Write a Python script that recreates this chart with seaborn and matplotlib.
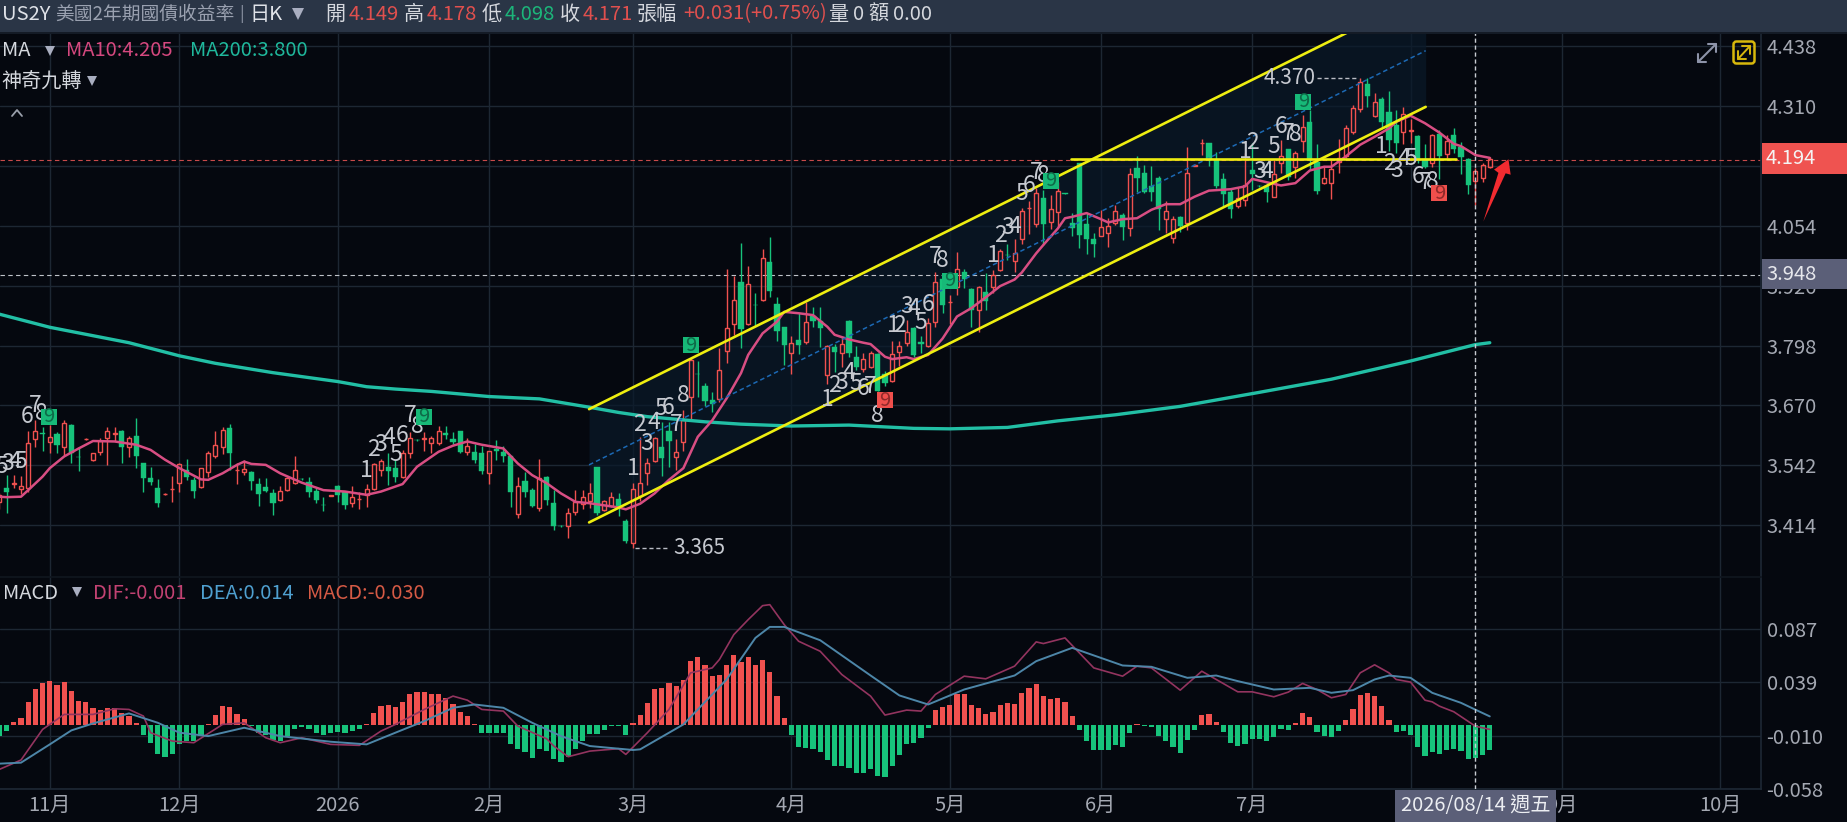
import matplotlib
matplotlib.use("Agg")
import matplotlib.pyplot as plt
import matplotlib.patches as mpatches
import pandas as pd
import seaborn as sns

# daily candles, index 0 is the first bar on the left
opens = [3.464,3.493,3.503,3.491,3.493,3.598,3.612,3.591,3.609,3.581,
         3.628,3.560,3.598,3.554,3.571,3.600,3.609,3.616,3.581,3.605,
         3.546,3.516,3.493,3.480,3.491,3.504,3.532,3.511,3.495,3.528,
         3.563,3.581,3.621,3.531,3.527,3.527,3.502,3.495,3.482,3.468,
         3.489,3.504,3.513,3.507,3.487,3.458,3.477,3.498,3.485,3.461,
         3.469,3.479,3.492,3.532,3.539,3.537,3.518,3.568,3.597,3.599,
         3.589,3.589,3.612,3.599,3.616,3.571,3.570,3.568,3.525,3.577,
         3.571,3.561,3.437,3.509,3.489,3.450,3.518,3.461,3.413,3.413,
         3.442,3.460,3.466,3.538,3.447,3.455,3.470,3.423,3.376,3.477,
         3.525,3.551,3.581,3.616,3.559,3.591,3.687,3.738,3.712,3.682,
         3.683,3.787,3.845,3.933,3.845,3.885,3.895,3.977,3.887,3.837,
         3.783,3.810,3.806,3.861,3.851,3.734,3.794,3.783,3.851,3.774,
         3.747,3.753,3.780,3.737,3.723,3.784,3.804,3.835,3.806,3.796,
         3.849,3.940,3.890,3.924,3.956,3.918,3.874,3.913,3.924,3.959,
         3.992,3.979,4.025,4.091,4.057,4.113,4.061,4.084,4.123,4.059,
         4.187,4.058,4.025,4.033,4.038,4.059,4.076,4.049,4.177,4.166,
         4.138,4.157,4.068,4.027,4.072,4.059,4.182,4.230,4.230,4.195,
         4.153,4.127,4.097,4.108,4.173,4.139,4.139,4.116,4.189,4.217,
         4.180,4.234,4.276,4.191,4.145,4.146,4.190,4.203,4.255,4.303,
         4.357,4.288,4.324,4.298,4.269,4.255,4.257,4.246,4.196,4.187,
         4.251,4.207,4.248,4.222,4.196,4.149,4.157,4.179]
closes = [3.479,3.485,3.505,3.497,3.589,3.616,3.609,3.603,3.586,3.633,
          3.568,3.559,3.599,3.569,3.593,3.616,3.611,3.582,3.600,3.561,
          3.516,3.507,3.461,3.481,3.492,3.544,3.518,3.488,3.536,3.568,
          3.586,3.617,3.568,3.532,3.535,3.509,3.481,3.487,3.461,3.488,
          3.514,3.531,3.512,3.486,3.468,3.457,3.478,3.479,3.457,3.475,
          3.470,3.491,3.544,3.551,3.530,3.517,3.568,3.601,3.596,3.600,
          3.601,3.616,3.606,3.591,3.571,3.584,3.554,3.529,3.572,3.573,
          3.561,3.486,3.498,3.486,3.455,3.516,3.468,3.413,3.412,3.440,
          3.464,3.474,3.482,3.440,3.465,3.474,3.452,3.381,3.491,3.504,
          3.546,3.601,3.558,3.593,3.571,3.638,3.767,3.737,3.680,3.673,
          3.746,3.836,3.895,3.833,3.929,3.884,3.986,3.915,3.829,3.800,
          3.804,3.800,3.849,3.850,3.835,3.796,3.785,3.801,3.781,3.753,
          3.769,3.781,3.701,3.719,3.780,3.796,3.826,3.778,3.801,3.847,
          3.934,3.885,3.891,3.962,3.940,3.873,3.922,3.894,3.949,3.999,
          3.991,3.995,4.086,4.092,4.123,4.058,4.089,4.128,4.122,4.049,
          4.034,4.025,4.015,4.052,4.054,4.086,4.051,4.164,4.157,4.126,
          4.127,4.089,4.086,4.068,4.054,4.166,4.183,4.231,4.195,4.138,
          4.122,4.090,4.113,4.141,4.165,4.138,4.125,4.164,4.203,4.159,
          4.210,4.264,4.194,4.128,4.157,4.175,4.198,4.262,4.305,4.362,
          4.331,4.319,4.276,4.237,4.230,4.293,4.258,4.194,4.179,4.248,
          4.203,4.234,4.219,4.200,4.140,4.171,4.184,4.197]
highs = [3.482,3.521,3.521,3.519,3.616,3.638,3.623,3.628,3.614,3.638,
         3.630,3.582,3.600,3.569,3.600,3.623,3.623,3.618,3.605,3.643,
         3.546,3.539,3.513,3.482,3.519,3.546,3.555,3.518,3.536,3.573,
         3.615,3.623,3.630,3.546,3.554,3.529,3.516,3.516,3.491,3.497,
         3.518,3.562,3.514,3.518,3.493,3.474,3.479,3.500,3.488,3.497,
         3.486,3.502,3.546,3.555,3.569,3.554,3.575,3.614,3.598,3.614,
         3.605,3.626,3.625,3.614,3.616,3.601,3.588,3.584,3.573,3.596,
         3.584,3.561,3.518,3.527,3.493,3.556,3.520,3.489,3.414,3.450,
         3.489,3.489,3.505,3.538,3.468,3.486,3.482,3.427,3.504,3.603,
         3.557,3.603,3.634,3.635,3.598,3.660,3.771,3.764,3.717,3.698,
         3.792,3.962,3.947,4.018,3.968,3.910,4.004,4.029,3.902,3.838,
         3.818,3.867,3.890,3.880,3.880,3.799,3.801,3.816,3.853,3.796,
         3.783,3.787,3.781,3.744,3.808,3.808,3.853,3.837,3.818,3.856,
         3.956,3.940,3.906,3.997,3.961,3.920,3.926,3.952,3.959,4.004,
         4.016,4.025,4.091,4.107,4.134,4.130,4.120,4.148,4.124,4.081,
         4.189,4.081,4.038,4.088,4.070,4.098,4.082,4.177,4.203,4.184,
         4.182,4.160,4.106,4.074,4.074,4.223,4.184,4.239,4.230,4.212,
         4.166,4.134,4.134,4.209,4.230,4.140,4.145,4.194,4.237,4.219,
         4.214,4.291,4.301,4.229,4.182,4.194,4.239,4.269,4.312,4.370,
         4.369,4.337,4.330,4.341,4.301,4.308,4.283,4.248,4.229,4.251,
         4.259,4.248,4.262,4.232,4.198,4.178,4.187,4.200]
lows = [3.448,3.441,3.493,3.481,3.486,3.582,3.573,3.568,3.569,3.561,
        3.548,3.529,3.597,3.552,3.564,3.543,3.593,3.546,3.559,3.536,
        3.486,3.500,3.454,3.479,3.463,3.484,3.511,3.472,3.493,3.518,
        3.557,3.566,3.531,3.502,3.521,3.489,3.456,3.484,3.435,3.465,
        3.488,3.502,3.511,3.475,3.462,3.445,3.476,3.464,3.448,3.452,
        3.448,3.454,3.489,3.520,3.500,3.507,3.514,3.557,3.595,3.573,
        3.568,3.586,3.598,3.588,3.568,3.564,3.546,3.524,3.502,3.554,
        3.550,3.454,3.429,3.475,3.452,3.445,3.457,3.404,3.411,3.386,
        3.435,3.448,3.450,3.436,3.445,3.454,3.433,3.377,3.365,3.465,
        3.500,3.550,3.519,3.538,3.531,3.573,3.639,3.689,3.669,3.657,
        3.678,3.760,3.821,3.793,3.842,3.842,3.893,3.901,3.808,3.756,
        3.737,3.780,3.801,3.837,3.794,3.715,3.742,3.752,3.773,3.746,
        3.742,3.749,3.700,3.712,3.721,3.755,3.796,3.774,3.783,3.794,
        3.837,3.867,3.845,3.906,3.920,3.838,3.826,3.873,3.910,3.958,
        3.981,3.956,4.016,4.036,4.052,4.013,4.046,4.053,4.121,4.032,
        4.006,3.994,3.987,4.031,4.009,4.056,4.024,4.031,4.125,4.123,
        4.106,4.044,4.038,4.018,4.041,4.044,4.181,4.205,4.182,4.134,
        4.096,4.070,4.091,4.096,4.130,4.137,4.105,4.115,4.166,4.152,
        4.155,4.212,4.173,4.122,4.143,4.111,4.166,4.198,4.251,4.298,
        4.307,4.287,4.266,4.214,4.209,4.229,4.230,4.189,4.177,4.180,
        4.153,4.198,4.209,4.165,4.122,4.098,4.148,4.177]

ma10_x = [0,1,3,4,6,7,9,11,13,16,19,21,23,25,28,29,31,33,34,35,37,39,42,45,48,51,53,56,58,61,63,65,67,70,72,74,76,78,80,82,
          86,87,89,91,93,95,97,99,101,103,104,106,108,109,111,113,115,116,118,120,121,123,124,126,127,129,131,133,135,137,139,141,142,144,145,147,
          148,149,151,153,154,156,158,160,162,164,166,168,171,173,174,176,178,180,182,184,185,187,189,191,193,194,196,198,200,202,203,205,207]
ma10_y = [3.475,3.474,3.475,3.489,3.518,3.536,3.561,3.578,3.594,3.593,3.586,3.575,3.554,3.536,3.512,3.511,3.525,3.543,3.550,3.545,
          3.543,3.525,3.505,3.489,3.486,3.479,3.486,3.502,3.539,3.571,3.584,3.593,3.586,3.578,3.546,3.521,3.504,3.482,3.464,3.461,
          3.452,3.448,3.460,3.482,3.511,3.536,3.603,3.638,3.685,3.739,3.778,3.824,3.849,3.870,3.867,3.863,3.838,3.821,3.811,3.804,
          3.801,3.774,3.769,3.773,3.769,3.778,3.813,3.860,3.878,3.901,3.925,3.939,3.954,3.995,4.013,4.048,
          4.070,4.073,4.081,4.068,4.061,4.068,4.070,4.088,4.100,4.100,4.116,4.129,4.132,4.138,4.154,4.147,4.140,4.145,4.172,4.180,
          4.180,4.202,4.227,4.244,4.262,4.276,4.289,4.273,4.253,4.229,4.224,4.205,4.199]
ma200_x = [0,7,18,25,30,38,47,51,55,60,68,75,82,86,90,98,103,110,118,127,132,140,147,155,164,175,185,196,205,207]
ma200_y = [3.865,3.837,3.804,3.776,3.760,3.740,3.721,3.710,3.705,3.700,3.689,3.684,3.666,3.655,3.646,3.635,3.630,3.626,3.628,3.621,
           3.620,3.623,3.637,3.650,3.668,3.698,3.726,3.765,3.800,3.804]

# MACD panel
macd_hist = [-.0100,-.0051,.0027,.0066,.0211,.0332,.0384,.0399,.0365,.0390,
             .0308,.0223,.0208,.0154,.0136,.0157,.0157,.0106,.0082,.0021,
             -.0091,-.0160,-.0260,-.0287,-.0266,-.0175,-.0145,-.0145,-.0100,.0012,
             .0088,.0172,.0160,.0097,.0057,-.0012,-.0069,-.0094,-.0136,-.0148,
             -.0100,-.0039,-.0021,-.0039,-.0069,-.0094,-.0076,-.0063,-.0069,-.0051,
             -.0033,.0012,.0109,.0172,.0184,.0166,.0208,.0278,.0296,.0296,
             .0281,.0281,.0248,.0193,.0121,.0082,.0012,-.0076,-.0069,-.0069,
             -.0076,-.0175,-.0220,-.0245,-.0302,-.0220,-.0239,-.0311,-.0335,-.0290,
             -.0220,-.0148,-.0079,-.0082,-.0048,-.0009,-.0006,-.0091,.0015,.0094,
             .0196,.0329,.0341,.0378,.0356,.0408,.0580,.0619,.0541,.0450,
             .0453,.0541,.0637,.0574,.0619,.0544,.0589,.0480,.0263,.0060,
             -.0094,-.0196,-.0211,-.0214,-.0245,-.0314,-.0371,-.0371,-.0393,-.0435,
             -.0432,-.0396,-.0465,-.0468,-.0371,-.0275,-.0169,-.0160,-.0118,-.0030,
             .0139,.0166,.0184,.0278,.0278,.0178,.0157,.0100,.0121,.0181,
             .0196,.0193,.0290,.0335,.0374,.0263,.0233,.0242,.0214,.0082,
             -.0048,-.0145,-.0223,-.0223,-.0227,-.0181,-.0202,-.0069,.0012,-.0009,
             -.0015,-.0103,-.0145,-.0199,-.0254,-.0136,-.0045,.0088,.0103,.0027,
             -.0060,-.0160,-.0187,-.0175,-.0124,-.0130,-.0145,-.0109,-.0039,-.0048,
             .0015,.0112,.0069,-.0060,-.0100,-.0106,-.0054,.0045,.0142,.0269,
             .0290,.0263,.0172,.0048,-.0060,-.0051,-.0091,-.0196,-.0284,-.0245,
             -.0263,-.0223,-.0220,-.0236,-.0311,-.0300,-.0275,-.0227]
dif_x = [0,3,6,9,13,16,18,20,21,24,27,31,34,37,39,42,46,50,53,55,59,63,65,67,70,72,76,77,79,82,86,87,90,
         93,96,99,100,102,104,106,107,109,111,114,117,121,123,126,128,130,134,137,141,144,145,148,152,156,158,160,164,167,172,174,
         177,179,181,183,185,187,189,191,193,194,196,198,199,200,202,205,207]
dif_y = [-.0402,-.0317,-.0039,.0097,.0097,.0148,.0142,.0082,-.0069,-.0145,-.0160,.0006,.0021,-.0115,-.0160,-.0115,-.0175,-.0184,-.0054,.0006,
         .0142,.0263,.0226,.0142,.0127,-.0009,-.0124,-.0190,-.0287,-.0236,-.0214,-.0266,-.0069,
         .0142,.0474,.0519,.0595,.0821,.0957,.1084,.1093,.0912,.0761,.0670,.0459,.0263,.0091,.0136,.0127,.0278,.0444,.0420,.0535,.0755,.0740,
         .0791,.0519,.0444,.0535,.0519,.0317,.0489,.0302,.0302,
         .0257,.0299,.0378,.0323,.0248,.0278,.0474,.0547,.0474,.0414,.0390,.0226,.0211,.0172,.0121,-.0010,-.0039]
dea_x = [0,3,7,10,13,18,22,25,29,34,39,46,51,55,59,63,66,70,74,78,82,88,89,95,101,105,107,109,114,121,125,129,134,141,144,149,156,160,165,169,172,
         177,182,185,188,191,193,196,199,203,205,207]
dea_y = [-.0350,-.0341,-.0175,-.0048,.0015,.0106,.0021,-.0069,-.0100,-.0024,-.0100,-.0151,-.0175,-.0069,.0036,.0157,.0187,.0157,.0021,-.0100,
         -.0190,-.0226,-.0220,.0006,.0414,.0791,.0891,.0891,.0770,.0450,.0269,.0187,.0323,.0450,.0580,.0701,.0541,.0529,.0429,.0450,.0399,
         .0323,.0338,.0293,.0317,.0414,.0450,.0429,.0293,.0202,.0140,.0079]

# trend channel and the flat line
channel_x = [81.9, 198.1]
channel_upper = [3.662, 4.550]
channel_mid = [3.543, 4.428]
channel_lower = [3.420, 4.308]
flat_x = [148.8, 202.3]
flat_y = [4.196, 4.196]

# nine-turn counters
td_x = [0.3,1.1,2.2,2.9,3.9,5,5.8, 51,52,53,54.1,55,56,57,58, 88,88.9,89.9,90.9,91.9,92.9,94,95,
        115,116,117,118,119,120,121,122, 124.2,125,126,127,128,129,130,131,
        138,139,140,141,142,143,144,145, 173,174,175,176,177,178,179,180,
        192,193,194,195,196,197,198,199]
td_y = [3.540,3.546,3.550,3.550,3.646,3.669,3.652, 3.532,3.576,3.587,3.601,3.566,3.605,3.648,3.626,
        3.536,3.630,3.588,3.634,3.664,3.666,3.630,3.691,
        3.682,3.712,3.719,3.741,3.717,3.707,3.710,3.648,
        3.840,3.840,3.881,3.877,3.847,3.885,3.988,3.979,
        3.991,4.034,4.051,4.053,4.123,4.139,4.167,4.162,
        4.212,4.232,4.170,4.170,4.223,4.267,4.250,4.248,
        4.224,4.186,4.173,4.198,4.198,4.159,4.146,4.148]
td_text = ["5","3","4","5","6","7","8", "1","2","3","4","5","6","7","8", "1","2","3","4","5","6","7","8",
           "1","2","3","4","5","6","7","8", "1","2","3","4","5","6","7","8",
           "1","2","3","4","5","6","7","8", "1","2","3","4","5","6","7","8",
           "1","2","3","4","5","6","7","8"]
nine_green_x = [6.9, 59, 96, 132, 146, 181.1]
nine_green_y = [3.646, 3.646, 3.799, 3.936, 4.150, 4.319]
nine_red_x = [123, 200]
nine_red_y = [3.681, 4.123]

month_ticks = [7, 25, 47, 68, 88, 110, 132, 153, 174, 196, 217, 239]
month_labels = ["11月", "12月", "2026", "2月", "3月", "4月", "5月", "6月", "7月", "8月", "9月", "10月"]
price_ticks = [4.438, 4.310, 4.182, 4.054, 3.926, 3.798, 3.670, 3.542, 3.414]
macd_ticks = [0.087, 0.039, -0.010, -0.058]

BG = "#05080f"
GRID = "#1d2733"
RED = "#f0514f"
GREEN = "#17c37b"
TEXT = "#a4a8b2"
YELLOW = "#eeee10"
CROSS = 205

sns.set_theme(style="dark")
plt.rcParams["font.family"] = ["Noto Sans CJK TC", "DejaVu Sans"]

W, H = 1847, 822
fig = plt.figure(figsize=(W / 100, H / 100), dpi=100, facecolor=BG)
ax = fig.add_axes([0, 1 - 577 / H, 1761 / W, (577 - 33) / H], facecolor=BG)
ax2 = fig.add_axes([0, 1 - 789 / H, 1761 / W, (789 - 577) / H], facecolor=BG)

candles = pd.DataFrame({"open": opens, "close": closes, "high": highs, "low": lows})
candles["top"] = candles[["open", "close"]].max(axis=1)
candles["bottom"] = candles[["open", "close"]].min(axis=1)
up = candles[candles.close >= candles.open]
down = candles[candles.close < candles.open]

# channel sits under the candles
ax.fill_between(channel_x, channel_lower, channel_upper, color="#0a1a2a", alpha=0.7, lw=0, zorder=1)

ax.vlines(up.index, up.top, up.high, color=RED, lw=1, zorder=3)
ax.vlines(up.index, up.low, up.bottom, color=RED, lw=1, zorder=3)
ax.bar(up.index, up.top - up.bottom, bottom=up.bottom, width=0.55, facecolor="none", edgecolor=RED, lw=1, zorder=3)
ax.vlines(down.index, down.low, down.high, color=GREEN, lw=1, zorder=3)
ax.bar(down.index, down.top - down.bottom, bottom=down.bottom, width=0.7, color=GREEN, lw=0.3, edgecolor=GREEN, zorder=3)

sns.lineplot(x=ma200_x, y=ma200_y, color="#22bfa5", lw=2.4, ax=ax, zorder=4)
sns.lineplot(x=ma10_x, y=ma10_y, color="#d84e83", lw=1.8, ax=ax, zorder=4)

ax.plot(channel_x, channel_mid, color="#1c69b4", lw=1.1, ls=(0, (3, 2)), zorder=5)
ax.plot(channel_x, channel_upper, color=YELLOW, lw=1.9, zorder=5)
ax.plot(channel_x, channel_lower, color=YELLOW, lw=1.9, zorder=5)
ax.plot(flat_x, flat_y, color=YELLOW, lw=1.9, zorder=5)

ax.axhline(4.194, color="#c94a4a", lw=0.8, ls=(0, (4, 3)), zorder=2)
ax.axhline(3.948, color="#bfc3c9", lw=0.8, ls=(0, (4, 3)), zorder=2)

for x, y, t in zip(td_x, td_y, td_text):
    ax.text(x, y, t, color="#c6c9d0", fontsize=16.5, ha="center", va="center", zorder=6, fontweight="light")

# the ninth count sits on a small square
ax.plot(nine_green_x, nine_green_y, ls="", marker="s", ms=11.5, color="#17b978", mew=0, zorder=6)
ax.plot(nine_red_x, nine_red_y, ls="", marker="s", ms=11.5, color="#ef4f4c", mew=0, zorder=6)
for x, y in zip(nine_green_x, nine_green_y):
    ax.text(x, y, "9", color="#0e6a48", fontsize=14.5, ha="center", va="center", zorder=7)
for x, y in zip(nine_red_x, nine_red_y):
    ax.text(x, y, "9", color="#8f2a2a", fontsize=14.5, ha="center", va="center", zorder=7)

# high and low call-outs
ax.plot([88.3, 93], [3.365, 3.365], color="#b9bcc4", lw=1, ls=(0, (3, 2)), zorder=6)
ax.text(93.6, 3.365, "3.365", color="#c6c9d0", fontsize=15, va="center", zorder=6)
ax.plot([183, 188.7], [4.370, 4.370], color="#b9bcc4", lw=1, ls=(0, (3, 2)), zorder=6)
ax.text(182.8, 4.370, "4.370", color="#c6c9d0", fontsize=15, va="center", ha="right", zorder=6)

# hand-drawn red arrow
ax.add_patch(mpatches.Polygon([(206.1, 4.063), (208.2, 4.167), (207.6, 4.174), (209.6, 4.196),
                               (209.9, 4.163), (209.2, 4.166)], closed=True, fc="#f22b30", ec="none", zorder=7))

# MACD histogram
macd = pd.DataFrame({"bar": range(len(macd_hist)), "hist": macd_hist})
macd["side"] = ["up" if v >= 0 else "down" for v in macd_hist]
sns.barplot(data=macd, x="bar", y="hist", hue="side", palette={"up": RED, "down": GREEN}, native_scale=True,
            dodge=False, width=0.7, saturation=1, legend=False, linewidth=0, edgecolor="none", ax=ax2, zorder=3)
sns.lineplot(x=dif_x, y=dif_y, color="#93345f", lw=1.2, ax=ax2, zorder=4)
sns.lineplot(x=dea_x, y=dea_y, color="#4d86a8", lw=1.4, ax=ax2, zorder=4)

for a in (ax, ax2):
    a.set_xlim(0.083, 244.67)
    a.set_xlabel("")
    a.set_ylabel("")
    a.set_xticks(month_ticks)
    a.grid(True, color=GRID, lw=1)
    a.set_axisbelow(True)
    a.yaxis.tick_right()
    a.axvline(CROSS, color="#c8ccd2", lw=1, ls=(0, (3, 2)), zorder=8)
    for side in a.spines:
        a.spines[side].set_visible(False)
    a.spines["right"].set_visible(True)
    a.spines["right"].set_color(GRID)
    a.tick_params(length=0, colors=TEXT, labelsize=14.5, pad=4)

ax.set_ylim(3.3034, 4.4658)
ax.set_yticks(price_ticks)
ax.set_yticklabels([f"{v:.3f}" for v in price_ticks])
ax.tick_params(labelbottom=False)
ax2.set_ylim(-0.058, 0.1344)
ax2.set_yticks(macd_ticks)
ax2.set_yticklabels([f"{v:.3f}" for v in macd_ticks])
ax2.set_xticklabels(month_labels)
ax2.spines["bottom"].set_visible(True)
ax2.spines["bottom"].set_color(GRID)
ax2.spines["top"].set_visible(True)
ax2.spines["top"].set_color("#10161f")

# screen chrome in pixel coordinates
ov = fig.add_axes([0, 0, 1, 1], zorder=10)
ov.set_xlim(0, W)
ov.set_ylim(H, 0)
ov.axis("off")
ov.patch.set_visible(False)

ov.add_patch(mpatches.Rectangle((0, 0), W, 32, fc="#2a3546", ec="none"))
ov.add_patch(mpatches.Rectangle((0, 32), W, 2, fc="#141b26", ec="none"))


def label(x, y, s, color="#d5d8de", size=14.5):
    ov.text(x, y, s, color=color, fontsize=size, va="center", ha="left")


def caret(x, y, size=7):
    ov.plot([x], [y], marker="v", ms=size, color="#a9aec0", mew=0)


RED_TXT = "#e0504e"
GREEN_TXT = "#1cb57a"
label(2, 14, "US2Y", "#dfe2e8")
label(55, 14, "美國2年期國債收益率", "#9aa1b0", 13.5)
label(239, 14, "|", "#8a92a2", 12)
label(249, 14, "日K", "#dfe2e8")
caret(298, 14, 9)
label(325, 14, "開")
label(349, 14, "4.149", RED_TXT)
label(404, 14, "高")
label(427, 14, "4.178", RED_TXT)
label(482, 14, "低")
label(505, 14, "4.098", GREEN_TXT)
label(560, 14, "收")
label(583, 14, "4.171", RED_TXT)
label(637, 14, "張幅")
label(683, 14, "+0.031(+0.75%)", RED_TXT)
label(828, 14, "量")
label(853, 14, "0")
label(868, 14, "額")
label(893, 14, "0.00")

label(2, 51, "MA", "#d5d8de")
caret(50, 51)
label(66, 51, "MA10:4.205", "#d6487f")
label(190, 51, "MA200:3.800", "#1fb89c")
label(1, 82, "神奇九轉", "#d5d8de")
caret(92, 81)
ov.plot([12, 17, 22], [116, 110, 116], color="#9aa0ab", lw=1.3)

label(3, 593, "MACD", "#d5d8de")
caret(77, 592)
label(93, 593, "DIF:-0.001", "#c24272")
label(200, 593, "DEA:0.014", "#4fa0d0")
label(307, 593, "MACD:-0.030", "#d65a45")

# price tags
ov.add_patch(mpatches.Rectangle((1762, 143), 85, 31, fc="#ef5350", ec="none"))
label(1766, 159, "4.194", "#f4f4f4")
ov.add_patch(mpatches.Rectangle((1762, 259), 85, 30, fc="#5b5f78", ec="none"))
label(1766, 274, "3.948", "#e6e7ec")
ov.add_patch(mpatches.Rectangle((1395, 790), 161, 32, fc="#5b5f78", ec="none"))
ov.text(1476, 805, "2026/08/14 週五", color="#eceef2", fontsize=14.5, ha="center", va="center")


def expand_icon(x0, y0, x1, y1, color, lw):
    # two-headed diagonal arrow from bottom-left to top-right
    ov.plot([x0, x1], [y1, y0], color=color, lw=lw)
    ov.plot([x1 - 8, x1, x1], [y0, y0, y0 + 8], color=color, lw=lw)
    ov.plot([x0, x0, x0 + 8], [y1 - 8, y1, y1], color=color, lw=lw)


expand_icon(1698, 44, 1716, 62, "#8d93a8", 1.5)
ov.add_patch(mpatches.FancyBboxPatch((1735, 43), 18, 19, boxstyle="round,pad=1.5,rounding_size=3", fc="none", ec="#d8b80c", lw=1.8))
expand_icon(1738, 46, 1750, 59, "#d8b80c", 1.4)

fig.savefig("out.png", dpi=100, facecolor=BG)
